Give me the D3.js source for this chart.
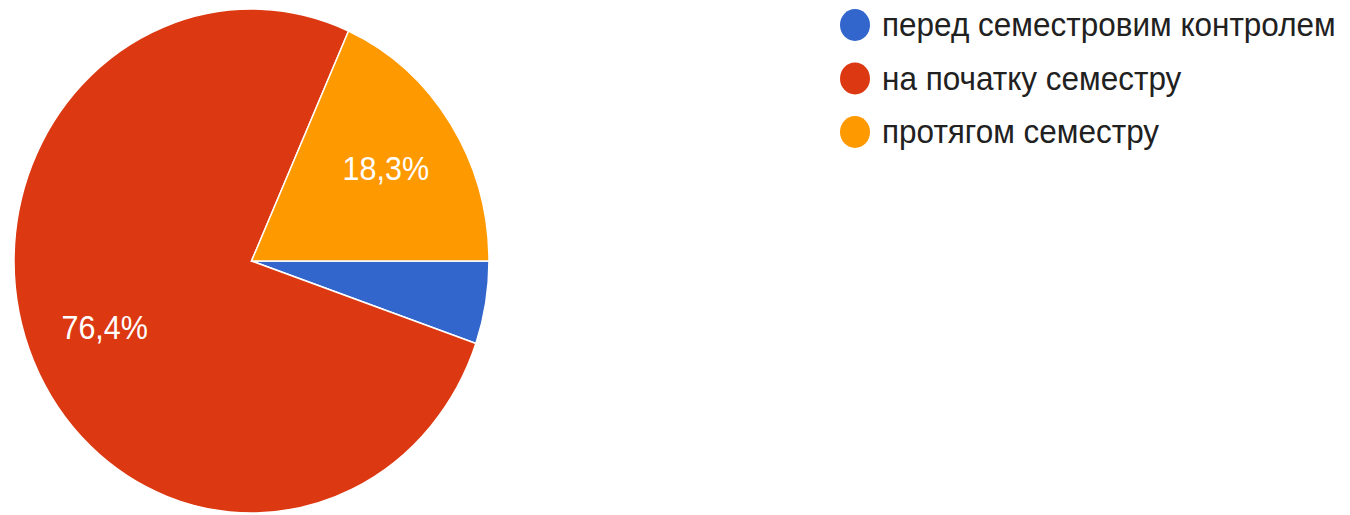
<!DOCTYPE html>
<html>
<head>
<meta charset="utf-8">
<script src="https://cdn.jsdelivr.net/npm/d3@7"></script>
<style>
  body { margin: 0; background: #fff; }
  text { font-family: "Liberation Sans", Arial, sans-serif; }
</style>
</head>
<body>
<svg id="chart" width="1350" height="515"></svg>
<script>
// data
var categories = ['перед семестровим контролем', 'на початку семестру', 'протягом семестру']
var shares     = [5.3, 76.4, 18.3]
var labels     = ['', '76,4%', '18,3%']
var colors     = ['#3366cc', '#dc3912', '#ff9900']

var svg = d3.select('#chart')
// the picture is a bit stretched vertically
var g = svg.append('g').attr('transform', 'scale(1,1.061)')

var radius = 237.5
var pieG = g.append('g').attr('transform', 'translate(251.5,246)')

var pie = d3.pie().sort(null).value(function (d) { return d })
  .startAngle(Math.PI / 2).endAngle(Math.PI / 2 + 2 * Math.PI)
var arc = d3.arc().innerRadius(0).outerRadius(radius)
var labelArc = d3.arc().innerRadius(160).outerRadius(160)

var slices = pie(shares)

pieG.selectAll('path')
  .data(slices)
  .enter().append('path')
  .attr('d', arc)
  .attr('fill', function (d, i) { return colors[i] })
  .attr('stroke', '#fff')
  .attr('stroke-width', 1.5)

pieG.selectAll('text')
  .data(slices)
  .enter().append('text')
  .attr('transform', function (d) { return 'translate(' + labelArc.centroid(d) + ')' })
  .attr('text-anchor', 'middle')
  .attr('dominant-baseline', 'central')
  .attr('fill', '#fff')
  .attr('font-size', 30.5)
  .text(function (d, i) { return labels[i] })

// legend
var legend = g.append('g').attr('transform', 'translate(855,23.6)')
var items = legend.selectAll('g')
  .data(categories)
  .enter().append('g')
  .attr('transform', function (d, i) { return 'translate(0,' + (i * 50.4) + ')' })

items.append('circle')
  .attr('r', 15)
  .attr('fill', function (d, i) { return colors[i] })

items.append('text')
  .attr('x', 27)
  .attr('dominant-baseline', 'central')
  .attr('font-size', 31.5)
  .attr('fill', '#212121')
  .text(function (d) { return d })
</script>
</body>
</html>
